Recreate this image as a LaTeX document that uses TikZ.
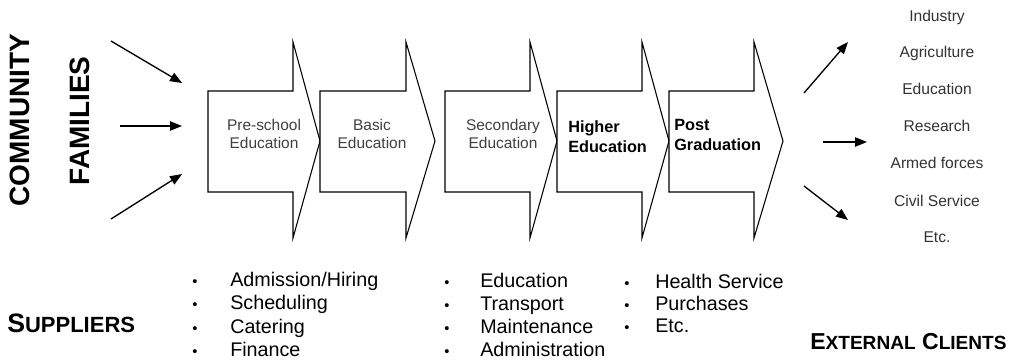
\documentclass[tikz,border=0pt]{standalone}
\usepackage{fontspec}
\setmainfont{Liberation Sans}
\usetikzlibrary{arrows.meta}
\begin{document}
\begin{tikzpicture}[x=0.75pt,y=-0.75pt,
 blk/.style={draw=black, fill=white, line width=0.8pt, line join=miter},
 stage/.style={font=\fontsize{11.6}{13.5}\selectfont, text=black!75, align=center, inner sep=0pt},
 stagebold/.style={font=\bfseries\fontsize{12.2}{15}\selectfont, align=left, inner sep=0pt, anchor=west},
 conn/.style={line width=1pt, -{Triangle[length=9pt,width=7pt]}},
 client/.style={font=\fontsize{11.7}{13}\selectfont, text=black!80, inner sep=0pt},
 item/.style={font=\fontsize{14.8}{17}\selectfont, inner sep=0pt, anchor=west, text height=0.72em, text depth=0.2em},
 bul/.style={font=\fontsize{11}{11}\selectfont, inner sep=0pt},
 vert/.style={font=\bfseries\fontsize{21}{21}\selectfont, rotate=90, inner sep=0pt},
 suphead/.style={font=\bfseries\fontsize{20}{20}\selectfont, inner sep=0pt},
 exthead/.style={font=\bfseries\fontsize{17.3}{17.3}\selectfont, inner sep=0pt}
]
\useasboundingbox (0,0) rectangle (1015,362);

% block arrows
\newcommand\blockarrow[3]{%
  \draw[blk] (#1,91) -- (#2,91) -- (#2,42) -- (#3,141) -- (#2,238) -- (#2,192) -- (#1,192) -- cycle;}
\blockarrow{208}{293}{320}
\blockarrow{320}{406}{435}
\blockarrow{445}{530}{557}
\blockarrow{557}{642}{669}
\blockarrow{669}{754}{783}

\node[stage] (pre) at (264,134) {Pre-school\\Education};
\node[stage] (basic) at (372,134) {Basic\\Education};
\node[stage] (sec) at (503,134) {Secondary\\Education};
\node[stagebold] (higher) at (568,137) {Higher\\Education};
\node[stagebold] (post) at (674,135) {Post\\Graduation};

% left labels
\node[vert] (community) at (20,120) {COMMUNITY};
\node[vert] (families) at (80,121) {FAMILIES};

% left arrows
\coordinate (l1s) at (111,41); \coordinate (l1e) at (182,83);
\coordinate (l2s) at (120,126); \coordinate (l2e) at (182,126);
\coordinate (l3s) at (111,219); \coordinate (l3e) at (182,174);
\draw[conn] (l1s) -- (l1e);
\draw[conn] (l2s) -- (l2e);
\draw[conn] (l3s) -- (l3e);

% right arrows
\coordinate (r1s) at (804,93); \coordinate (r1e) at (848,42);
\coordinate (r2s) at (823,142); \coordinate (r2e) at (867,142);
\coordinate (r3s) at (804,186); \coordinate (r3e) at (848,220);
\draw[conn] (r1s) -- (r1e);
\draw[conn] (r2s) -- (r2e);
\draw[conn] (r3s) -- (r3e);

% clients
\node[client] (c1) at (937,17) {Industry};
\node[client] (c2) at (937,53) {Agriculture};
\node[client] (c3) at (937,89) {Education};
\node[client] (c4) at (937,126) {Research};
\node[client] (c5) at (937,163) {Armed forces};
\node[client] (c6) at (937,201) {Civil Service};
\node[client] (c7) at (937,237) {Etc.};

% bottom headings
\node[suphead, anchor=west] (sup) at (7,323) {S{\fontsize{16.5}{16.5}\selectfont UPPLIERS}};
\node[exthead, anchor=west] (ext) at (810,342) {E{\fontsize{14.3}{14.3}\selectfont XTERNAL} C{\fontsize{14.3}{14.3}\selectfont LIENTS}};

% lists
\foreach \t [count=\i] in {Admission/Hiring,Scheduling,Catering,Finance}{
  \node[bul] (ba\i) at (195,{283+(\i-1)*23.3}) {•};
  \node[item] (ia\i) at (230,{283+(\i-1)*23.3}) {\t};
}
\foreach \t [count=\i] in {Education,Transport,Maintenance,Administration}{
  \node[bul] (bb\i) at (447,{284+(\i-1)*23}) {•};
  \node[item] (ib\i) at (480,{284+(\i-1)*23}) {\t};
}
\foreach \t [count=\i] in {Health Service,Purchases,Etc.}{
  \node[bul] (bc\i) at (627,{285+(\i-1)*22}) {•};
  \node[item] (ic\i) at (655,{285+(\i-1)*22}) {\t};
}
\end{tikzpicture}
\end{document}
